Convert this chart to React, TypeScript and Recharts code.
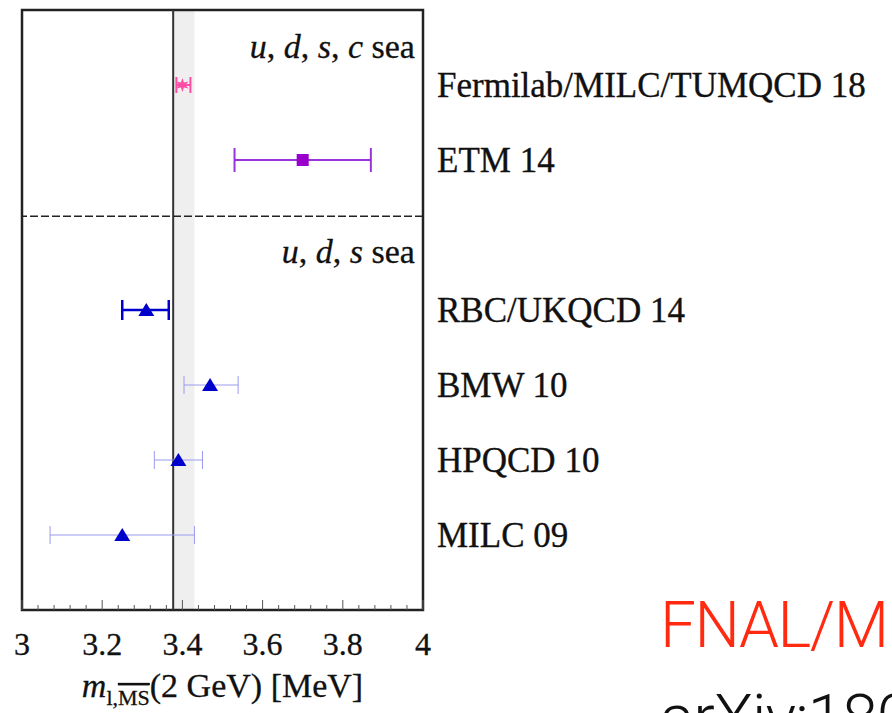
import React from 'react';
import {
  ScatterChart, Scatter, XAxis, YAxis, ErrorBar, ReferenceLine, ReferenceArea, ReferenceDot
} from 'recharts';

// one row per lattice result, top to bottom
const collaborations = ['Fermilab/MILC/TUMQCD 18', 'ETM 14', 'RBC/UKQCD 14', 'BMW 10', 'HPQCD 10', 'MILC 09'];
const rows = [1, 2, 4, 5, 6, 7];
const central = [3.40, 3.70, 3.31, 3.469, 3.39, 3.25];
const lower = [3.385, 3.53, 3.25, 3.404, 3.33, 3.07];
const upper = [3.42, 3.87, 3.366, 3.539, 3.45, 3.43];
const styles = ['star', 'square', 'triangle', 'triangleThin', 'triangleThin', 'triangleThin'];

const xTicks = [3, 3.2, 3.4, 3.6, 3.8, 4];
const averageLine = 3.377;
const averageBand = [3.377, 3.43];
const separatorRow = 2.75;

const points = collaborations.map((name, i) => ({
  name,
  x: central[i],
  y: rows[i],
  err: [central[i] - lower[i], upper[i] - central[i]],
  style: styles[i],
}));

// minor ticks every 0.04, majors every 0.2
const allTicks: number[] = [];
for (let i = 0; i <= 25; i++) allTicks.push(+(3 + i * 0.04).toFixed(2));
const isMajor = (v: number) => xTicks.some((t) => Math.abs(t - v) < 1e-6);

const SERIF = '"Liberation Serif", "Times New Roman", serif';
const LABEL_GAP = 22;

const BottomTick = ({ x, y, payload }: any) => {
  const v = payload.value;
  const major = isMajor(v);
  const axisY = y - LABEL_GAP;
  return (
    <g>
      <line x1={x} y1={axisY} x2={x} y2={axisY - (major ? 10 : 5)} stroke="#555" />
      {major && (
        <text x={x} y={y} dy="0.71em" textAnchor="middle" fontFamily={SERIF} fontSize={32} fill="#111" stroke="#111" strokeWidth={0.3}>
          {v}
        </text>
      )}
    </g>
  );
};

const TopTick = ({ x, y, payload }: any) => {
  const major = isMajor(payload.value);
  return <line x1={x} y1={y} x2={x} y2={y + (major ? 10 : 5)} stroke="#555" />;
};

const Star = ({ cx, cy }: any) => {
  const pts: string[] = [];
  for (let k = 0; k < 12; k++) {
    const r = k % 2 === 0 ? 7 : 3;
    const a = (Math.PI / 6) * k - Math.PI / 2;
    pts.push(`${cx + r * Math.cos(a)},${cy + r * Math.sin(a)}`);
  }
  return <polygon points={pts.join(' ')} fill="#ff4da6" />;
};

const Square = ({ cx, cy }: any) => (
  <rect x={cx - 6} y={cy - 6} width={12} height={12} fill="#9900cc" />
);

const Triangle = ({ cx, cy }: any) => (
  <polygon points={`${cx - 8},${cy + 6} ${cx + 8},${cy + 6} ${cx},${cy - 7}`} fill="#0000cc" />
);

const Header = ({ cx, cy, last }: any) => (
  <text x={cx} y={cy} textAnchor="end" fontFamily={SERIF} fontSize={34} fill="#111" stroke="#111" strokeWidth={0.3}>
    <tspan fontStyle="italic">u</tspan>, <tspan fontStyle="italic">d</tspan>, <tspan fontStyle="italic">s</tspan>
    {last ? <>, <tspan fontStyle="italic">c</tspan></> : null} sea
  </text>
);

const AxisTitle = ({ viewBox }: any) => {
  const cx = viewBox.x + viewBox.width / 2;
  return (
    <text x={cx} y={697} textAnchor="middle" fontFamily={SERIF} fontSize={34} fill="#111" stroke="#111" strokeWidth={0.3}>
      <tspan fontStyle="italic">m</tspan>
      <tspan fontSize={22} dy={8}>l,</tspan>
      <tspan fontSize={22} style={{ textDecoration: 'overline' }}>MS</tspan>
      <tspan dy={-8}>(2 GeV) [MeV]</tspan>
    </text>
  );
};

export default function App() {
  const group = (s: string) => points.filter((p) => p.style === s);

  return (
    <div style={{ position: 'absolute', left: 0, top: 0, width: 892, height: 713, overflow: 'hidden', background: '#fff' }}>
      <ScatterChart width={892} height={713} margin={{ top: 10, left: 22, right: 9, bottom: 43 }}>
        <XAxis
          type="number" dataKey="x" domain={[3, 4]} ticks={allTicks} allowDataOverflow interval={0}
          axisLine={false} tickLine={false} tickSize={0} tickMargin={LABEL_GAP} height={60}
          tick={<BottomTick />}
          label={{ content: AxisTitle }}
        />
        <XAxis
          xAxisId="top" orientation="top" type="number" dataKey="x" domain={[3, 4]} ticks={allTicks} interval={0}
          allowDataOverflow axisLine={false} tickLine={false} tickSize={0} tickMargin={0} height={0}
          tick={<TopTick />}
        />
        <YAxis
          type="number" dataKey="y" domain={[0, 8]} reversed orientation="right" ticks={rows}
          tickFormatter={(v: number) => collaborations[rows.indexOf(v)] ?? ''}
          axisLine={false} tickLine={false} tickSize={0} tickMargin={14} width={460}
          tick={{ fill: '#111', stroke: '#111', strokeWidth: 0.35, fontSize: 35, fontFamily: SERIF, textAnchor: 'start' }}
        />

        <ReferenceArea x1={averageBand[0]} x2={averageBand[1]} y1={0} y2={8} fill="#efefef" fillOpacity={1} stroke="none" />
        <ReferenceLine x={averageLine} stroke="#333" strokeWidth={2} />
        <ReferenceLine y={separatorRow} stroke="#222" strokeWidth={1.5} strokeDasharray="8 3" />

        <ReferenceArea x1={3} x2={4} y1={0} y2={8} fill="none" stroke="#222" strokeWidth={2.5} />

        <ReferenceDot x={3.98} y={0.64} r={0} ifOverflow="visible" shape={(p: any) => <Header {...p} last />} />
        <ReferenceDot x={3.98} y={3.37} r={0} ifOverflow="visible" shape={(p: any) => <Header {...p} />} />

        <Scatter data={group('star')} shape={Star} isAnimationActive={false}>
          <ErrorBar dataKey="err" direction="x" width={8} stroke="#ff4da6" strokeWidth={2} />
        </Scatter>
        <Scatter data={group('square')} shape={Square} isAnimationActive={false}>
          <ErrorBar dataKey="err" direction="x" width={12} stroke="#9933dd" strokeWidth={2} />
        </Scatter>
        <Scatter data={group('triangle')} shape={Triangle} isAnimationActive={false}>
          <ErrorBar dataKey="err" direction="x" width={10} stroke="#0000cc" strokeWidth={2.5} />
        </Scatter>
        <Scatter data={group('triangleThin')} shape={Triangle} isAnimationActive={false}>
          <ErrorBar dataKey="err" direction="x" width={9} stroke="#9a9af0" strokeWidth={1} />
        </Scatter>
      </ScatterChart>

      <div style={{ position: 'absolute', left: 660, top: 588, fontFamily: 'Roboto, "Liberation Sans", sans-serif', fontWeight: 300, fontSize: 64, color: '#ff2a10', letterSpacing: -1.5, whiteSpace: 'nowrap', lineHeight: '75px' }}>
        FNAL/MILC/TUMQCD
      </div>
      <div style={{ position: 'absolute', left: 660, top: 681, fontFamily: 'Roboto, "Liberation Sans", sans-serif', fontWeight: 300, fontSize: 64, color: '#111', letterSpacing: -1, whiteSpace: 'nowrap', lineHeight: '75px' }}>
        arXiv:1802.04248
      </div>
    </div>
  );
}
